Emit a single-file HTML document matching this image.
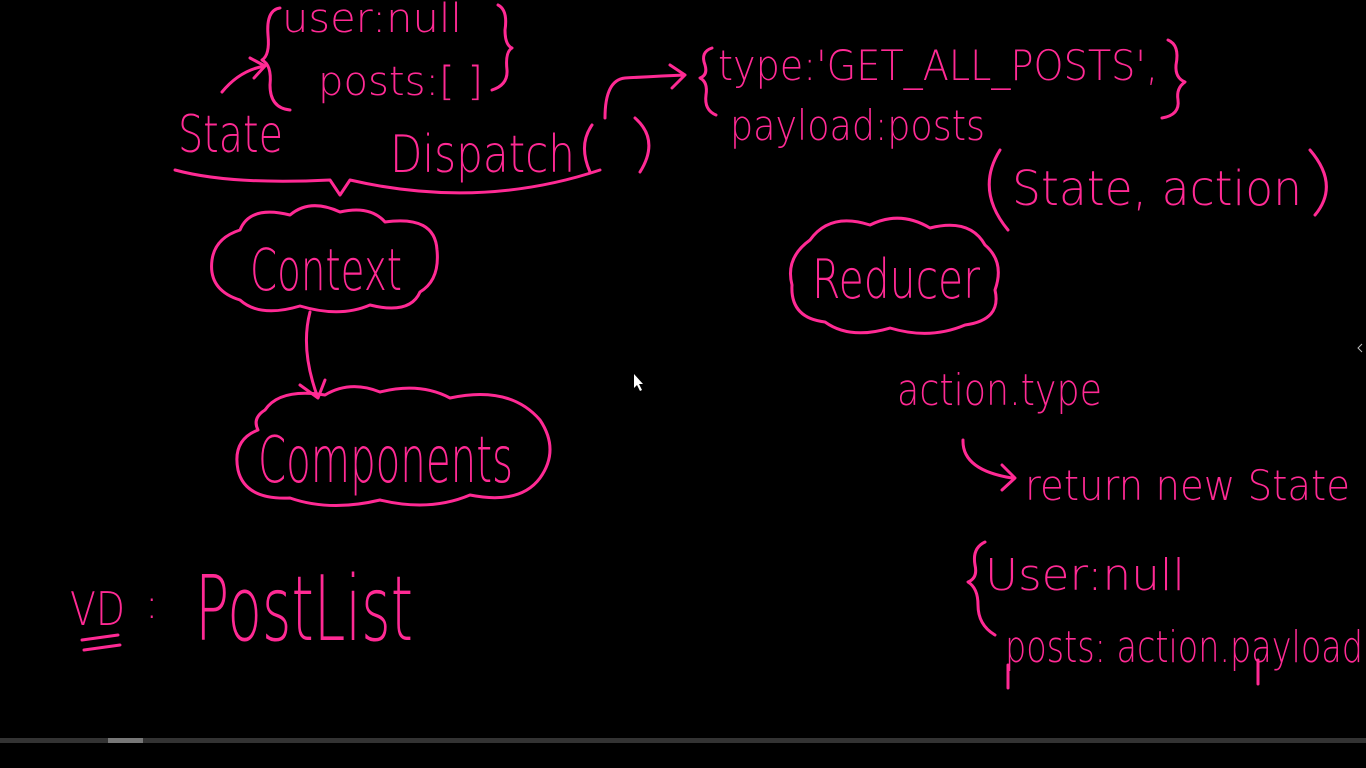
<!DOCTYPE html>
<html><head><meta charset="utf-8"><style>
html,body{margin:0;padding:0;background:#000;width:1366px;height:768px;overflow:hidden}
svg{display:block}
text{font-family:"DejaVu Sans","Liberation Sans",sans-serif;fill:#ff2a94;font-weight:200}
.s{fill:none;stroke:#ff2a94;stroke-width:3;stroke-linecap:round;stroke-linejoin:round}
</style></head><body>
<svg width="1366" height="768" viewBox="0 0 1366 768">
<rect width="1366" height="768" fill="#000"/>
<!-- top state object -->
<text x="282" y="32" font-size="40" textLength="180" lengthAdjust="spacingAndGlyphs">user:null</text>
<text x="318" y="95" font-size="40" textLength="165" lengthAdjust="spacingAndGlyphs">posts:[ ]</text>
<path class="s" d="M280,8 Q266,10 268,35 Q270,55 262,60 Q272,65 270,85 Q270,108 290,110"/>
<path class="s" d="M498,5 Q508,10 505,30 Q505,45 512,48 Q505,52 507,70 Q508,85 492,90"/>
<path class="s" d="M222,92 Q240,70 265,66 M250,58 L265,66 L254,78"/>
<text x="178" y="152" font-size="52" textLength="105" lengthAdjust="spacingAndGlyphs">State</text>
<text x="390" y="172" font-size="52" textLength="185" lengthAdjust="spacingAndGlyphs">Dispatch</text>
<path class="s" d="M592,125 Q578,145 590,172 M635,118 Q660,140 640,172"/>
<path class="s" d="M175,170 Q230,185 330,180 L340,195 L350,180 Q480,210 600,170"/>
<path class="s" d="M605,118 Q605,80 625,78 Q660,76 685,75 M670,65 L685,75 L672,88"/>
<!-- action object -->
<path class="s" d="M712,48 Q700,52 705,65 Q708,75 700,78 Q708,82 706,95 Q704,110 716,115"/>
<text x="718" y="80" font-size="42" textLength="440" lengthAdjust="spacingAndGlyphs">type:'GET_ALL_POSTS',</text>
<text x="730" y="140" font-size="42" textLength="255" lengthAdjust="spacingAndGlyphs">payload:posts</text>
<path class="s" d="M1168,40 Q1180,45 1176,65 Q1175,78 1185,82 Q1176,88 1178,100 Q1180,115 1162,118"/>
<path class="s" d="M1000,150 Q975,190 1008,230 M1310,150 Q1340,185 1315,215"/>
<text x="1012" y="205" font-size="48" textLength="290" lengthAdjust="spacingAndGlyphs">State, action</text>
<!-- Context cloud -->
<path class="s" d="M240,230 Q250,205 290,215 Q310,198 340,212 Q370,205 385,222 Q435,215 437,250 Q440,280 420,292 Q410,315 370,305 Q340,318 300,306 Q260,318 240,300 Q208,290 212,260 Q215,238 240,230 Z"/>
<text x="250" y="290" font-size="58" textLength="152" lengthAdjust="spacingAndGlyphs">Context</text>
<path class="s" d="M310,312 Q300,350 318,398 M300,385 L318,398 L325,380"/>
<!-- Components cloud -->
<path class="s" d="M265,410 Q280,388 325,395 Q350,380 380,392 Q420,382 450,398 Q510,385 540,420 Q560,450 540,478 Q520,505 470,495 Q430,512 380,500 Q330,512 290,498 Q245,500 238,470 Q232,440 258,430 Q252,418 265,410 Z"/>
<text x="258" y="482" font-size="64" textLength="255" lengthAdjust="spacingAndGlyphs">Components</text>
<!-- Reducer cloud -->
<path class="s" d="M810,240 Q830,212 870,225 Q900,210 930,228 Q970,218 985,245 Q1005,262 995,290 Q1002,320 965,325 Q930,340 890,328 Q850,340 825,322 Q790,318 792,285 Q785,258 810,240 Z"/>
<text x="812" y="298" font-size="54" textLength="168" lengthAdjust="spacingAndGlyphs">Reducer</text>
<text x="897" y="405" font-size="44" textLength="205" lengthAdjust="spacingAndGlyphs">action.type</text>
<path class="s" d="M963,440 Q962,470 1012,478 M1002,465 L1015,478 L1002,490"/>
<text x="1025" y="500" font-size="42" textLength="325" lengthAdjust="spacingAndGlyphs">return new State</text>
<path class="s" d="M985,542 Q972,548 975,565 Q978,578 968,582 Q978,588 978,605 Q978,625 995,635"/>
<text x="985" y="590" font-size="44" textLength="200" lengthAdjust="spacingAndGlyphs">User:null</text>
<text x="1005" y="662" font-size="44" textLength="358" lengthAdjust="spacingAndGlyphs">posts: action.payload</text>
<path class="s" d="M1008,665 L1008,688 M1258,660 L1258,684"/>
<!-- VD : PostList -->
<text x="70" y="625" font-size="46" textLength="55" lengthAdjust="spacingAndGlyphs">VD</text>
<text x="145" y="618" font-size="40">:</text>
<path class="s" d="M82,640 L118,635 M84,650 L120,645"/>
<text x="195" y="640" font-size="90" textLength="218" lengthAdjust="spacingAndGlyphs">PostList</text>
<!-- cursor -->
<path d="M634,374 L634,388 L637,385 L640,391 L642,390 L639,384 L643,384 Z" fill="#fff"/>
<path d="M1362,344 L1358,348 L1362,352" fill="none" stroke="#bbb" stroke-width="1"/>
<!-- bottom bar -->
<rect x="0" y="738" width="1366" height="5" fill="#333"/>
<rect x="108" y="738" width="35" height="5" fill="#777"/>
</svg>
</body></html>
